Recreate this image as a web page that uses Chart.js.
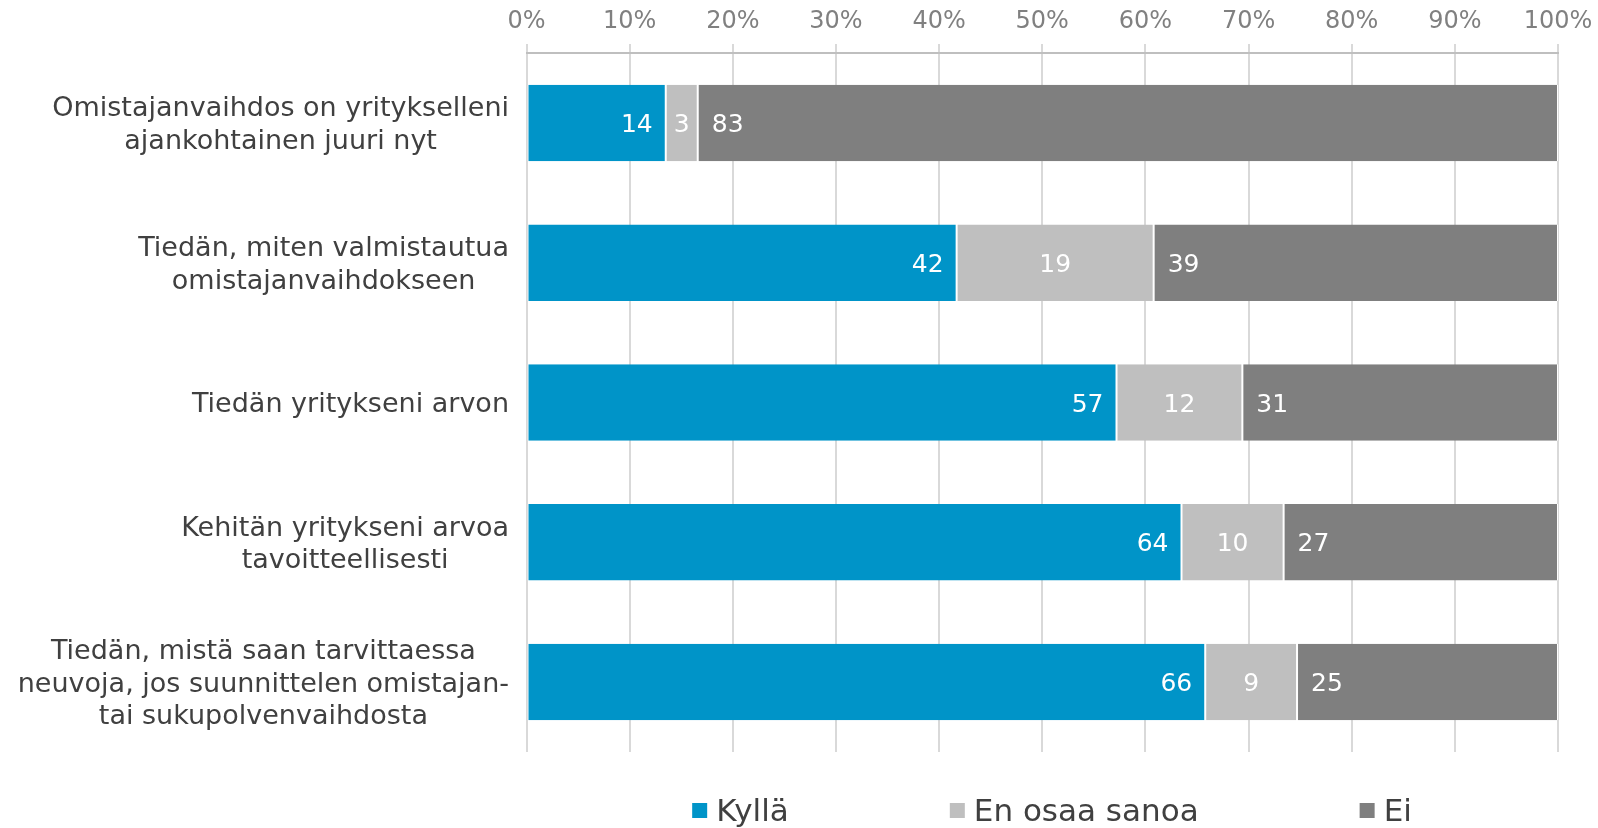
<!DOCTYPE html>
<html>
<head>
<meta charset="utf-8">
<script src="https://cdn.jsdelivr.net/npm/chart.js@4"></script>
<style>
  html, body { margin: 0; padding: 0; background: #fff; }
  #wrap { width: 1598px; height: 828px; }
</style>
</head>
<body>
<div id="wrap"><canvas id="chart" width="1598" height="828"></canvas></div>
<script>
// --- Data ---
const categories = [
  ['Omistajanvaihdos on yritykselleni', 'ajankohtainen juuri nyt'],
  ['Tiedän, miten valmistautua', 'omistajanvaihdokseen'],
  ['Tiedän yritykseni arvon'],
  ['Kehitän yritykseni arvoa', 'tavoitteellisesti'],
  ['Tiedän, mistä saan tarvittaessa', 'neuvoja, jos suunnittelen omistajan-', 'tai sukupolvenvaihdosta']
];
const seriesNames = ['Kyllä', 'En osaa sanoa', 'Ei'];
// shares in % (labels show them rounded)
const kylla = [13.5, 41.7, 57.2, 63.5, 65.8];
const enOsaa = [3.1, 19.1, 12.2, 9.9, 8.9];
const ei = [83.4, 39.2, 30.6, 26.6, 25.3];
const xTicks = [0, 10, 20, 30, 40, 50, 60, 70, 80, 90, 100];
const colors = ['#0094C8', '#BFBFBF', '#7F7F7F'];

const FONT = "'DejaVu Sans', Verdana, sans-serif";
const CAP = 0.729; // cap height / em

const series = [kylla, enOsaa, ei];

const datasets = series.map((arr, k) => ({
  label: seriesNames[k],
  data: arr,
  backgroundColor: colors[k],
  borderColor: '#FFFFFF',
  borderWidth: { left: 1, right: 1, top: 0, bottom: 0 },
  borderSkipped: false,
  barPercentage: 1,
  categoryPercentage: 0.547
}));

// --- Plugins ---
// value labels inside the segments
const valueLabels = {
  id: 'valueLabels',
  afterDatasetsDraw(chart) {
    const ctx = chart.ctx;
    const size = 25;
    ctx.save();
    ctx.font = size + 'px ' + FONT;
    ctx.fillStyle = '#FFFFFF';
    ctx.textBaseline = 'alphabetic';
    chart.data.datasets.forEach((ds, di) => {
      const meta = chart.getDatasetMeta(di);
      meta.data.forEach((bar, i) => {
        const p = bar.getProps(['x', 'base', 'y'], true);
        const txt = String(Math.round(ds.data[i]));
        const by = p.y + size * CAP / 2;
        if (di === 0) {
          ctx.textAlign = 'right';
          ctx.fillText(txt, p.x - 13, by);
        } else if (di === 2) {
          ctx.textAlign = 'left';
          ctx.fillText(txt, p.base + 14, by);
        } else {
          ctx.textAlign = 'center';
          ctx.fillText(txt, (p.x + p.base) / 2, by);
        }
      });
    });
    ctx.restore();
  }
};

// category labels: block right aligned, lines centred within block
const categoryLabels = {
  id: 'categoryLabels',
  afterDraw(chart) {
    const ctx = chart.ctx;
    const yScale = chart.scales.y;
    const right = 509;
    const size = 27;
    const lh = 32.5;
    ctx.save();
    ctx.font = size + 'px ' + FONT;
    ctx.fillStyle = '#404040';
    ctx.textBaseline = 'alphabetic';
    ctx.textAlign = 'center';
    categories.forEach((lines, i) => {
      const cy = yScale.getPixelForValue(i);
      const w = Math.max(...lines.map(l => ctx.measureText(l).width));
      const cx = right - w / 2;
      const y0 = cy - (lines.length - 1) * lh / 2 + size * CAP / 2;
      lines.forEach((l, j) => ctx.fillText(l, cx, y0 + j * lh));
    });
    ctx.restore();
  }
};

// legend drawn below the plot
const bottomLegend = {
  id: 'bottomLegend',
  afterDraw(chart) {
    const ctx = chart.ctx;
    const box = 15, gapText = 9, gapItem = 161;
    const size = 31;
    const baseline = 821;
    ctx.save();
    ctx.font = size + 'px ' + FONT;
    ctx.textBaseline = 'alphabetic';
    ctx.textAlign = 'left';
    const widths = seriesNames.map(n => box + gapText + ctx.measureText(n).width);
    const total = widths.reduce((a, b) => a + b, 0) + gapItem * (widths.length - 1);
    let x = 1052 - total / 2;
    seriesNames.forEach((n, k) => {
      ctx.fillStyle = colors[k];
      ctx.fillRect(x, 803, box, box);
      ctx.fillStyle = '#404040';
      ctx.fillText(n, x + box + gapText, baseline);
      x += widths[k] + gapItem;
    });
    ctx.restore();
  }
};

// --- Chart ---
new Chart(document.getElementById('chart'), {
  type: 'bar',
  data: { labels: categories.map(c => c.join(' ')), datasets: datasets },
  options: {
    indexAxis: 'y',
    responsive: false,
    animation: false,
    devicePixelRatio: 1,
    layout: { padding: { left: 0, right: 40, top: 0, bottom: 76 } },
    scales: {
      x: {
        position: 'top',
        stacked: true,
        min: 0,
        max: 100,
        afterBuildTicks: s => { s.ticks = xTicks.map(v => ({ value: v })); },
        ticks: {
          callback: v => v + '%',
          color: '#808080',
          font: { family: FONT, size: 24 },
          padding: 8,
          maxRotation: 0
        },
        grid: { color: '#D9D9D9', lineWidth: 2, tickLength: 9, drawTicks: true },
        border: { display: true, color: '#BFBFBF', width: 2 },
        afterFit: s => { s.height = 53; s.paddingLeft = 0; s.paddingRight = 0; }
      },
      y: {
        stacked: true,
        ticks: { display: false },
        grid: { display: false },
        border: { display: false },
        afterFit: s => { s.width = 526.5; }
      }
    },
    plugins: {
      legend: { display: false },
      tooltip: { enabled: false }
    }
  },
  plugins: [valueLabels, categoryLabels, bottomLegend]
});
</script>
</body>
</html>
